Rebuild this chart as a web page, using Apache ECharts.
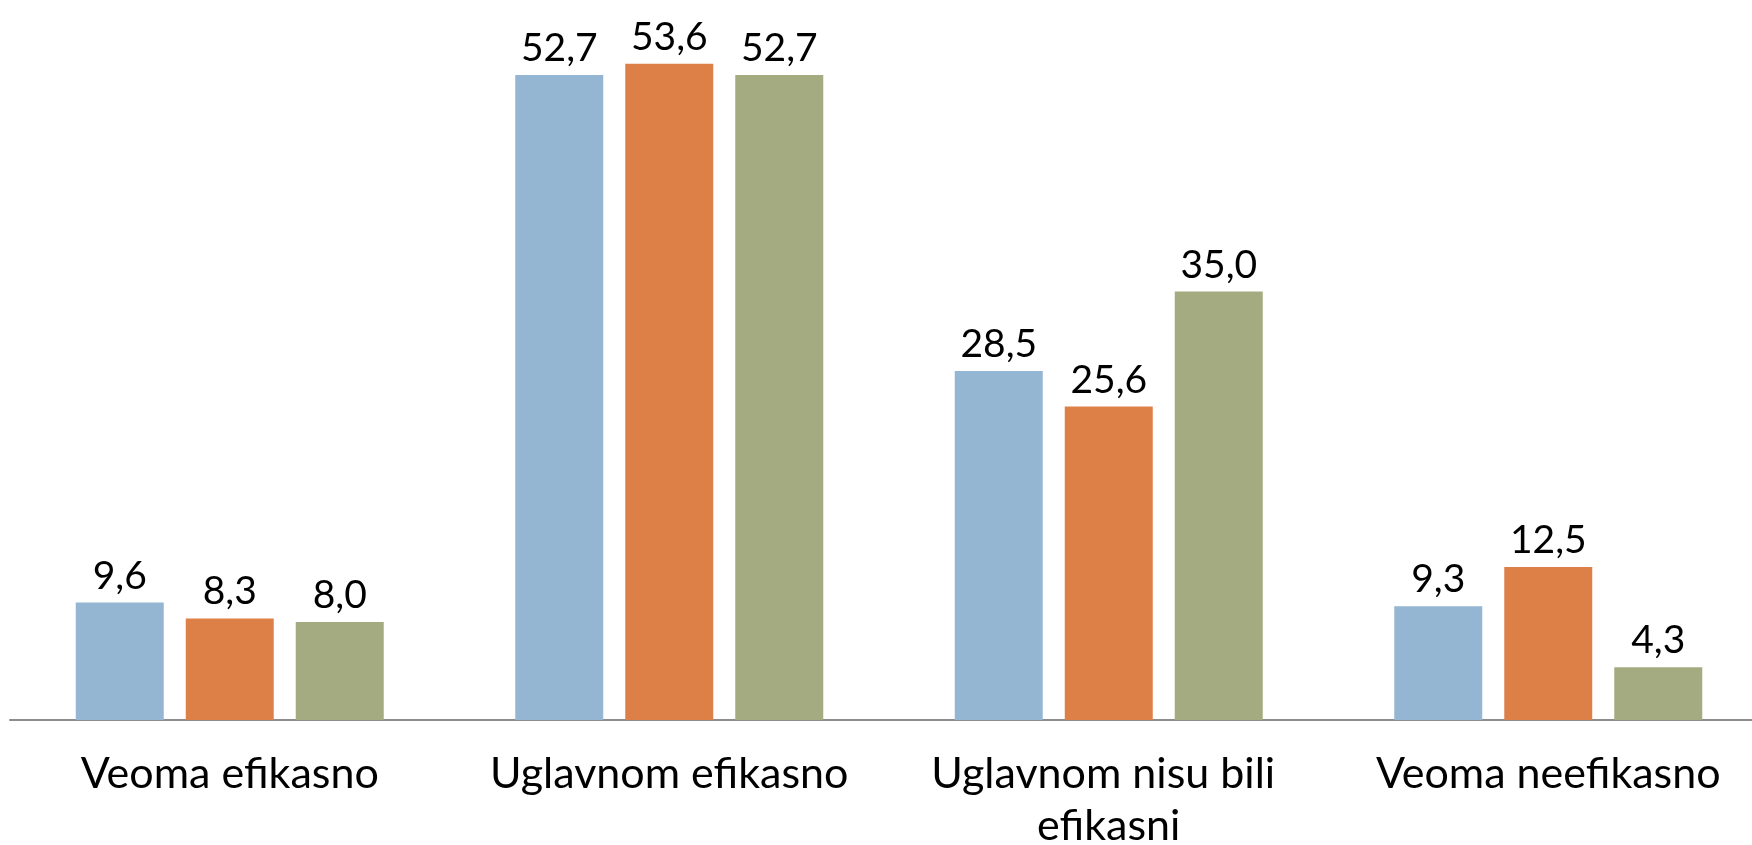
<!DOCTYPE html>
<html><head><meta charset="utf-8">
<script src="https://cdn.jsdelivr.net/npm/echarts@6/dist/echarts.min.js"></script>
<style>html,body{margin:0;padding:0;background:#fff}#c{width:1752px;height:845px}</style>
</head><body><div id="c"></div>
<script>
const categories = ['Veoma efikasno', 'Uglavnom efikasno', 'Uglavnom nisu bili efikasni', 'Veoma neefikasno'];
const seriesA = [9.6, 52.7, 28.5, 9.3];
const seriesB = [8.3, 53.6, 25.6, 12.5];
const seriesC = [8.0, 52.7, 35.0, 4.3];
const colors = ['#94B6D2', '#DD8047', '#A5AB81'];

const chart = echarts.init(document.getElementById('c'), null, {renderer: 'canvas'});
const font = 'Lato, "Open Sans", sans-serif';
function mk(data, i) {
  return {
    type: 'bar', data: data, barWidth: 88, barGap: '25%',
    itemStyle: {color: colors[i]},
    label: {show: true, position: 'top', distance: 7, color: '#000', fontFamily: font, fontSize: 39,
      formatter: p => p.value.toFixed(1).replace('.', ',')}
  };
}
chart.setOption({
  animation: false,
  grid: {left: 10, width: 1758, top: 10, height: 710, containLabel: false, outerBoundsMode: 'none'},
  xAxis: {type: 'category', data: categories,
    axisLine: {lineStyle: {color: '#8c8c8c', width: 2}}, axisTick: {show: false},
    axisLabel: {color: '#000', fontFamily: font, fontSize: 43, margin: 28, lineHeight: 52,
      width: 400, overflow: 'break', interval: 0}},
  yAxis: {type: 'value', min: 0, max: 58, show: false, splitLine: {show: false}},
  series: [mk(seriesA, 0), mk(seriesB, 1), mk(seriesC, 2)]
});
</script></body></html>
